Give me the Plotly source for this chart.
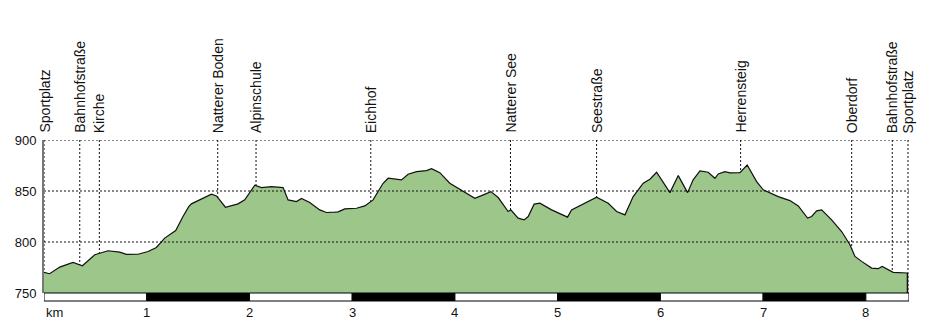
import plotly.graph_objects as go

# profile data: distance (km) and elevation (m)
dist_km = [0.0, 0.055, 0.153, 0.282, 0.374, 0.494, 0.623, 0.737, 0.802, 0.915,
           1.013, 1.094, 1.175, 1.282, 1.353, 1.409, 1.435, 1.533, 1.630, 1.679,
           1.766, 1.889, 1.954, 2.052, 2.117, 2.214, 2.327, 2.376, 2.458, 2.506,
           2.587, 2.684, 2.750, 2.831, 2.863, 2.928, 3.042, 3.123, 3.203, 3.301,
           3.350, 3.480, 3.544, 3.626, 3.723, 3.772, 3.853, 3.950, 4.080, 4.194,
           4.259, 4.350, 4.421, 4.518, 4.544, 4.615, 4.674, 4.713, 4.771, 4.827,
           4.941, 5.054, 5.096, 5.135, 5.233, 5.379, 5.492, 5.574, 5.655, 5.735,
           5.833, 5.898, 5.963, 6.012, 6.093, 6.174, 6.265, 6.319, 6.385, 6.465,
           6.531, 6.563, 6.628, 6.677, 6.774, 6.845, 6.937, 7.001, 7.066, 7.147,
           7.261, 7.342, 7.433, 7.472, 7.521, 7.570, 7.667, 7.764, 7.845, 7.894,
           7.959, 8.056, 8.119, 8.159, 8.266, 8.396, 8.405]
elev_m = [770.2, 768.9, 775.4, 780.0, 776.7, 787.5, 791.4, 790.1, 787.8, 788.0,
          790.7, 794.6, 803.8, 811.3, 825.0, 834.7, 837.4, 842.0, 846.9, 845.2,
          834.1, 837.4, 841.3, 855.7, 853.3, 854.3, 853.3, 841.3, 839.6, 842.6,
          838.7, 831.5, 828.9, 829.2, 829.5, 832.5, 833.1, 835.4, 841.3, 857.6,
          862.5, 860.9, 866.4, 869.0, 870.0, 871.9, 868.0, 857.6, 849.4, 842.9,
          845.5, 849.4, 843.6, 829.9, 831.5, 823.4, 821.7, 825.0, 837.1, 838.0,
          831.5, 826.6, 824.4, 831.5, 836.4, 843.9, 838.0, 829.9, 826.6, 844.5,
          857.6, 861.5, 868.4, 860.9, 848.4, 865.1, 848.4, 860.9, 869.7, 868.4,
          862.5, 866.7, 869.0, 867.7, 868.0, 875.5, 859.2, 851.1, 848.4, 844.5,
          840.6, 835.4, 823.4, 825.0, 830.5, 831.5, 821.7, 810.3, 797.3, 785.8,
          781.0, 774.4, 773.8, 776.0, 770.2, 769.6, 769.6]

# waypoints
wp_names = ["Sportplatz", "Bahnhofstraße", "Kirche", "Natterer Boden", "Alpinschule",
            "Eichhof", "Natterer See", "Seestraße", "Herrensteig", "Oberdorf",
            "Bahnhofstraße", "Sportplatz"]
wp_km = [0.0, 0.348, 0.539, 1.691, 2.064, 3.181, 4.541, 5.379, 6.781, 7.862, 8.257, 8.41]

y_ticks = [750, 800, 850, 900]
km_ticks = [1, 2, 3, 4, 5, 6, 7, 8]
x_max = 8.42

FONT = "Liberation Sans, Arial, sans-serif"
DOT = "2px,2px"

fig = go.Figure()

# vertical waypoint lines (behind the fill)
for k in wp_km:
    fig.add_trace(go.Scatter(x=[k, k], y=[y_ticks[-1], y_ticks[0]], mode="lines",
                             line=dict(color="#111", width=1, dash=DOT),
                             hoverinfo="skip", showlegend=False, cliponaxis=False))

# profile area
fig.add_trace(go.Scatter(x=dist_km, y=elev_m, mode="lines", fill="tozeroy",
                         fillcolor="#9dc68b", line=dict(color="#111", width=1.2),
                         showlegend=False))
# closing edge at end
fig.add_trace(go.Scatter(x=[dist_km[-1], dist_km[-1]], y=[elev_m[-1], y_ticks[0]],
                         mode="lines", line=dict(color="#111", width=1.5),
                         showlegend=False, hoverinfo="skip"))

# horizontal dotted grid above fill
for yv in y_ticks[1:]:
    fig.add_trace(go.Scatter(x=[0, x_max], y=[yv, yv], mode="lines",
                             line=dict(color="#111", width=1, dash=DOT),
                             hoverinfo="skip", showlegend=False))

shapes = []
# scale bar
bounds = [0] + km_ticks + [x_max]
plot_h = 323 - 140 - 30
bar_h = 8 / plot_h
for i in range(len(bounds) - 1):
    shapes.append(dict(type="rect", xref="x", yref="paper",
                       x0=bounds[i], x1=bounds[i + 1], y0=-bar_h, y1=0,
                       fillcolor="black" if i % 2 else "white",
                       line=dict(color="black", width=1), layer="above"))

annotations = []
for name, k in zip(wp_names, wp_km):
    annotations.append(dict(x=k, y=1, xref="x", yref="paper", text=name,
                            textangle=-90, showarrow=False, xanchor="center",
                            yanchor="bottom", yshift=5,
                            font=dict(family=FONT, size=14, color="#111")))
annotations.append(dict(x=0, y=-19.5 / plot_h, xref="x", yref="paper", text="km",
                        showarrow=False, xanchor="left", yanchor="middle",
                        font=dict(family=FONT, size=13, color="#111")))
for k in km_ticks:
    annotations.append(dict(x=k, y=-19.5 / plot_h, xref="x", yref="paper", text=str(k),
                            showarrow=False, xanchor="center", yanchor="middle",
                            font=dict(family=FONT, size=13, color="#111")))

fig.update_layout(
    width=936, height=323,
    margin=dict(l=44, r=27, t=140, b=30),
    paper_bgcolor="white", plot_bgcolor="white",
    showlegend=False,
    shapes=shapes, annotations=annotations,
    xaxis=dict(range=[0, x_max], showgrid=False, zeroline=False, showticklabels=False,
               showline=False, fixedrange=True),
    yaxis=dict(range=[y_ticks[0], y_ticks[-1]], tickvals=y_ticks, showgrid=False,
               zeroline=False, showline=True, linecolor="#777", linewidth=2,
               ticks="outside", ticklen=3, tickcolor="rgba(0,0,0,0)",
               tickfont=dict(family=FONT, size=13, color="#111"), fixedrange=True),
)

fig.write_html("out.html")
